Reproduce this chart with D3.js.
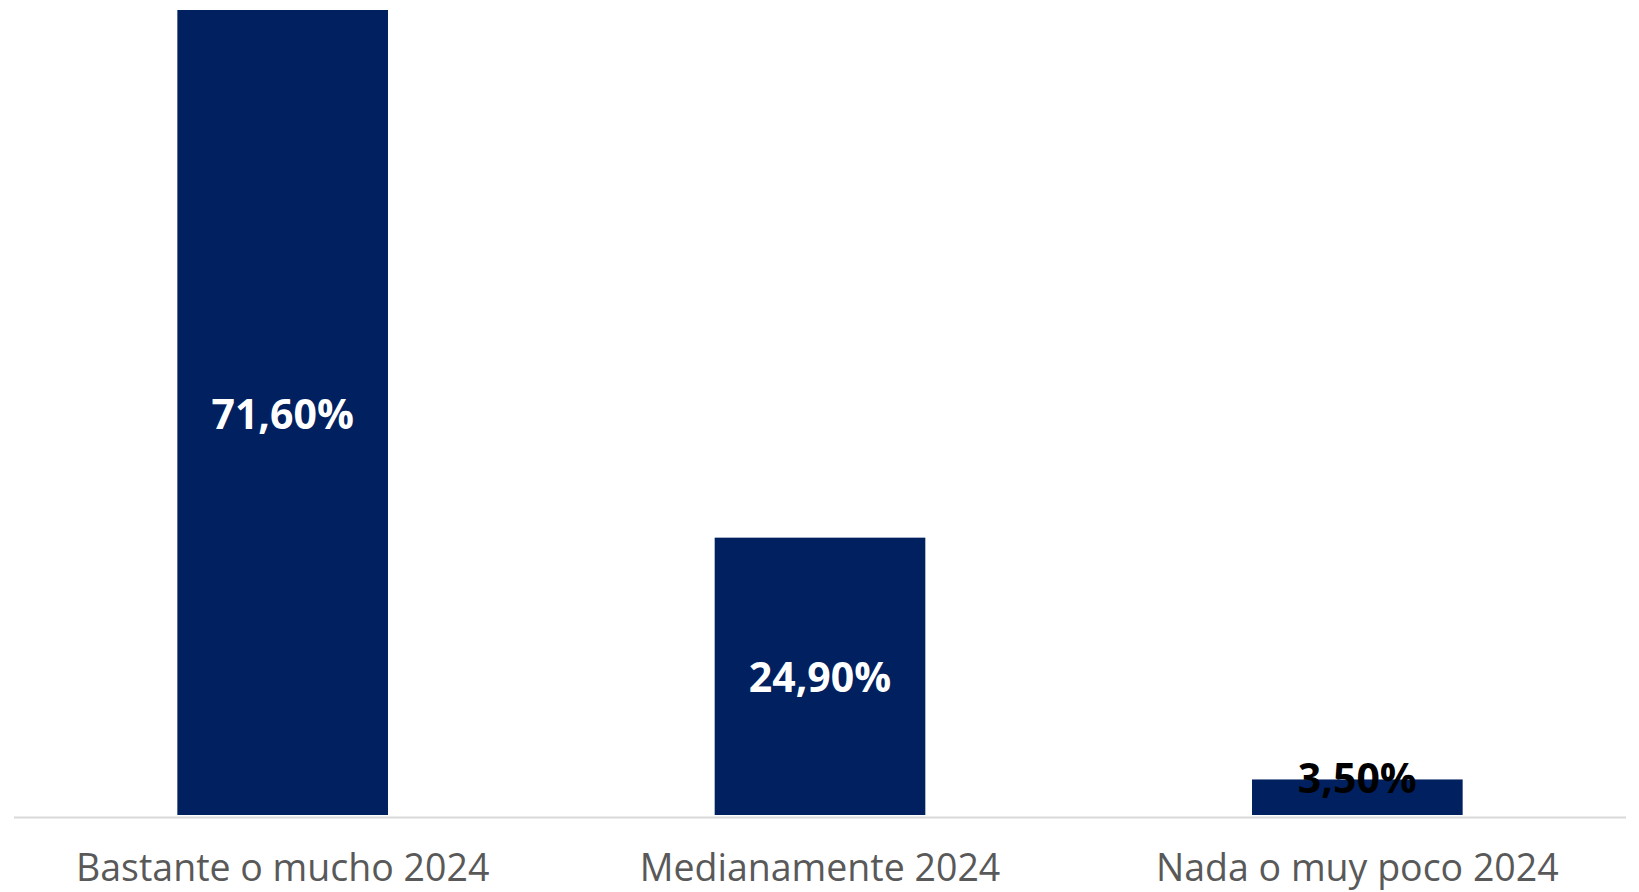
<!DOCTYPE html>
<html>
<head>
<meta charset="utf-8">
<script src="https://cdn.jsdelivr.net/npm/d3@7"></script>
<style>
  html, body { margin: 0; padding: 0; background: #ffffff; }
  svg { display: block; }
</style>
</head>
<body>
<svg id="chart" width="1639" height="892"></svg>
<script>
const categories = ["Bastante o mucho 2024", "Medianamente 2024", "Nada o muy poco 2024"];
const values = [71.6, 24.9, 3.5];
const valueLabels = ["71,60%", "24,90%", "3,50%"];
const labelColors = ["#ffffff", "#ffffff", "#000000"];

const svg = d3.select("#chart");
const plot = { left: 14, right: 1626, top: 10, zero: 819 };

const x = d3.scaleBand()
  .domain(categories)
  .range([plot.left, plot.right])
  .paddingInner(0.608)
  .paddingOuter(0.304);

const y = d3.scaleLinear()
  .domain([0, d3.max(values)])
  .range([plot.zero, plot.top]);

const data = categories.map((c, i) => ({ c, v: values[i], label: valueLabels[i], color: labelColors[i] }));

// bars
svg.append("g").selectAll("rect")
  .data(data)
  .enter().append("rect")
  .attr("x", d => x(d.c))
  .attr("y", d => y(d.v))
  .attr("width", x.bandwidth())
  .attr("height", d => (y(0) - 4) - y(d.v))
  .attr("fill", "#002060");

// baseline axis
const xAxis = d3.axisBottom(x).tickSize(0).tickPadding(0);
const gx = svg.append("g")
  .attr("transform", `translate(0,${y(0) - 1.5})`)
  .call(xAxis);
gx.select(".domain").attr("stroke", "#d9d9d9").attr("stroke-width", 2)
  .attr("d", `M${plot.left},0H${plot.right}`);
gx.selectAll(".tick text")
  .attr("y", 63)
  .attr("dy", 0)
  .attr("fill", "#595959")
  .style("font-family", "'Open Sans', sans-serif")
  .style("font-size", "37.5px");

// value labels
svg.append("g").selectAll("text")
  .data(data)
  .enter().append("text")
  .attr("x", d => x(d.c) + x.bandwidth() / 2)
  .attr("y", d => {
    const top = y(d.v), bottom = y(0) - 4;
    const mid = (top + bottom) / 2;
    return (bottom - top) > 60 ? mid : top - 2;
  })
  .attr("text-anchor", "middle")
  .attr("dominant-baseline", "central")
  .attr("fill", d => d.color)
  .style("font-family", "'Open Sans', sans-serif")
  .style("font-weight", "bold")
  .style("font-size", "41px")
  .text(d => d.label);
</script>
</body>
</html>
